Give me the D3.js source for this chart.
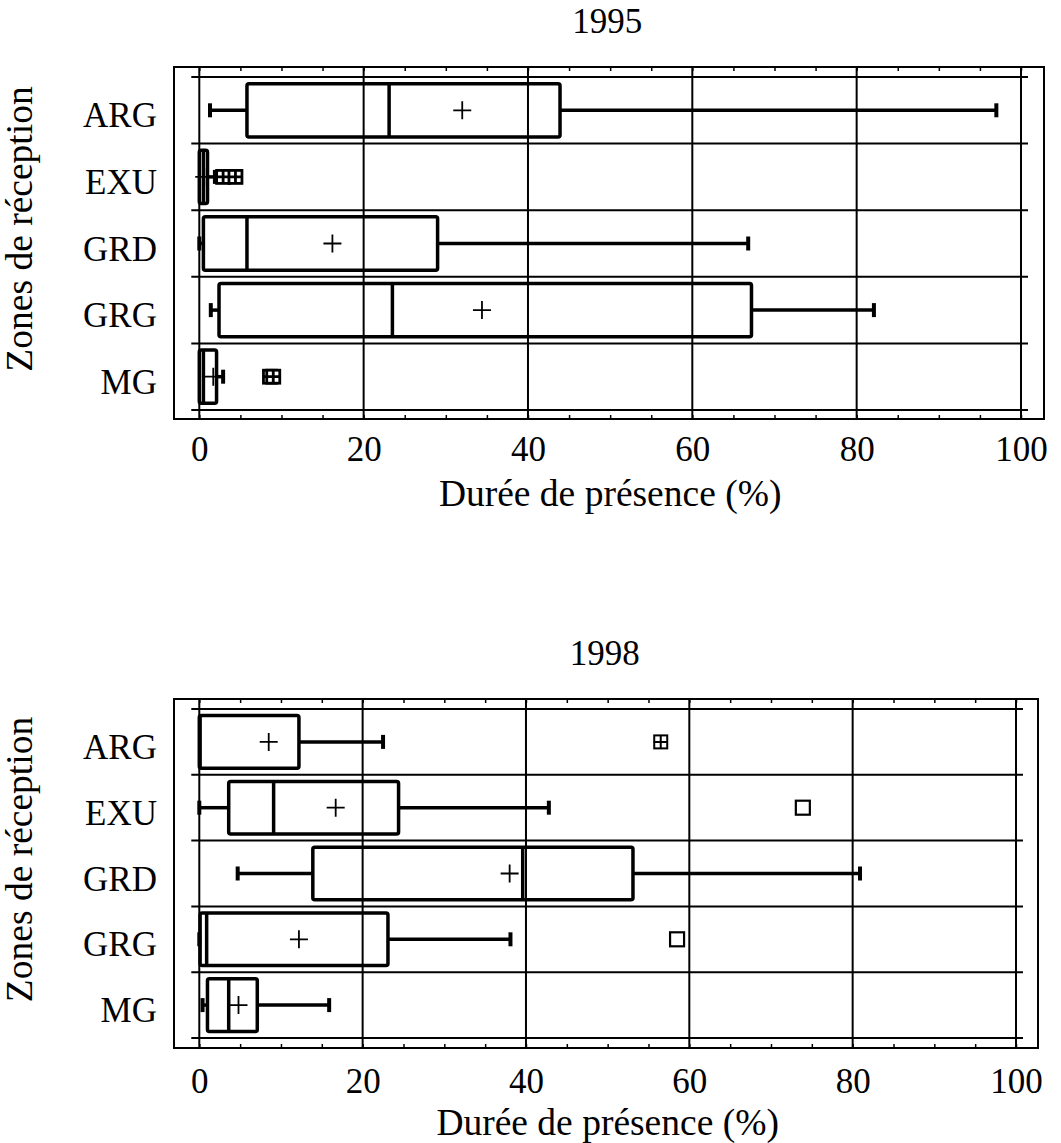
<!DOCTYPE html>
<html>
<head>
<meta charset="utf-8">
<script src="https://cdn.jsdelivr.net/npm/d3@7"></script>
<style>
  body { margin: 0; background: #fff; }
  svg text { font-family: "Liberation Serif", "DejaVu Serif", serif; fill: #000; }
</style>
</head>
<body>
<div class="chart"></div>
<script>
// zones de réception, de haut en bas
const zones = ['ARG', 'EXU', 'GRD', 'GRG', 'MG'];
const xTicks = [0, 20, 40, 60, 80, 100];
const minorTicks = d3.range(0, 101, 5);

// 1995 : min, Q1, médiane, moyenne, Q3, max
const min1995  = [1.3, 0.0, 0.0, 1.4, 0.0];
const q1_1995  = [5.8, 0.0, 0.5, 2.4, 0.0];
const med1995  = [23.1, 0.5, 5.8, 23.5, 0.5];
const mean1995 = [32.0, 0.6, 16.2, 34.4, 1.7];
const q3_1995  = [43.9, 1.0, 29.0, 67.2, 2.1];
const max1995  = [97.0, 1.9, 66.8, 82.1, 2.9];
const out1995  = [[], [], [], [], []];
const far1995  = [[], [2.9, 4.4], [], [], [8.6, 9.0]];

// 1998
const min1998  = [0.0, 0.0, 4.7, 0.0, 0.4];
const q1_1998  = [0.0, 3.6, 13.9, 0.1, 1.0];
const med1998  = [0.1, 9.1, 39.6, 0.9, 3.6];
const mean1998 = [8.5, 16.7, 38.0, 12.2, 4.8];
const q3_1998  = [12.2, 24.4, 53.1, 23.1, 7.1];
const max1998  = [22.5, 42.8, 80.9, 38.1, 15.9];
const out1998  = [[], [73.9], [], [58.5], []];
const far1998  = [[56.5], [], [], [], []];

function buildRows(mins, q1s, meds, means, q3s, maxs, outs, fars) {
  return zones.map((z, i) => ({
    zone: z, min: mins[i], q1: q1s[i], med: meds[i], mean: means[i],
    q3: q3s[i], max: maxs[i], out: outs[i], far: fars[i]
  }));
}

const svg = d3.select('.chart').append('svg')
  .attr('width', 1061).attr('height', 1143);

const FONT = 35;
const LABEL_FONT = 37.5;

function drawPanel(cfg, rows) {
  const g = svg.append('g');
  const x = d3.scaleLinear().domain([0, 100]).range([cfg.x0, cfg.x1]);
  const y = d3.scaleBand().domain(zones).range([cfg.bandTop, cfg.bandBottom]);
  const bw = y.bandwidth();
  const boxH = bw * 0.8;

  // titre
  g.append('text')
    .attr('x', (cfg.x0 + cfg.x1) / 2 - 3)
    .attr('y', cfg.top - 34)
    .attr('text-anchor', 'middle')
    .style('font-size', FONT + 'px')
    .text(cfg.title);

  // cadre
  g.append('rect')
    .attr('x', cfg.left).attr('y', cfg.top)
    .attr('width', cfg.right - cfg.left).attr('height', cfg.bottom - cfg.top)
    .attr('fill', 'none').attr('stroke', '#000').attr('stroke-width', 2);

  // grille verticale
  g.selectAll('.vgrid').data(xTicks).enter().append('line')
    .attr('x1', d => x(d)).attr('x2', d => x(d))
    .attr('y1', cfg.top).attr('y2', cfg.bottom)
    .attr('stroke', '#000').attr('stroke-width', 2);

  // lignes entre les zones
  const bounds = zones.map(z => y(z)).concat([y(zones[zones.length - 1]) + bw]);
  g.selectAll('.hgrid').data(bounds).enter().append('line')
    .attr('x1', x(0) - 8).attr('x2', x(100) + 7)
    .attr('y1', d => d).attr('y2', d => d)
    .attr('stroke', '#000').attr('stroke-width', 2);

  // petites graduations (haut et bas)
  const minorB = d3.axisBottom(x).tickValues(minorTicks).tickSizeInner(-4).tickSizeOuter(0).tickFormat('');
  g.append('g').attr('transform', `translate(0,${cfg.bottom})`).call(minorB)
    .call(a => a.select('.domain').remove())
    .selectAll('line').attr('stroke-width', 1.5);
  const minorT = d3.axisTop(x).tickValues(minorTicks).tickSizeInner(-4).tickSizeOuter(0).tickFormat('');
  g.append('g').attr('transform', `translate(0,${cfg.top})`).call(minorT)
    .call(a => a.select('.domain').remove())
    .selectAll('line').attr('stroke-width', 1.5);

  // axe X (étiquettes)
  const xAxis = d3.axisBottom(x).tickValues(xTicks).tickSize(0).tickPadding(cfg.tickPad);
  const xa = g.append('g').attr('transform', `translate(0,${cfg.bottom})`).call(xAxis);
  xa.select('.domain').remove();
  xa.selectAll('text').style('font-size', FONT + 'px').attr('font-family', null);

  // axe Y (zones)
  const yAxis = d3.axisLeft(y).tickSize(0).tickPadding(cfg.left - 157);
  const ya = g.append('g').attr('transform', `translate(${cfg.left},0)`).call(yAxis);
  ya.select('.domain').remove();
  ya.selectAll('text').style('font-size', FONT + 'px').attr('dy', '0.49em').attr('font-family', null);

  // titres des axes
  g.append('text')
    .attr('x', (x(0) + x(100)) / 2)
    .attr('y', cfg.bottom + cfg.xLabelOffset)
    .attr('text-anchor', 'middle')
    .style('font-size', LABEL_FONT + 'px')
    .text('Durée de présence (%)');
  const cy = (cfg.top + cfg.bottom) / 2 - 14;
  g.append('text')
    .attr('transform', `translate(32,${cy}) rotate(-90)`)
    .attr('text-anchor', 'middle')
    .style('font-size', LABEL_FONT + 'px')
    .text('Zones de réception');

  // boîtes
  const box = g.selectAll('.box').data(rows).enter().append('g').attr('class', 'box');
  const cyOf = d => y(d.zone) + bw / 2;

  box.append('line') // moustache basse
    .attr('x1', d => x(d.min)).attr('x2', d => x(d.q1))
    .attr('y1', cyOf).attr('y2', cyOf)
    .attr('stroke', '#000').attr('stroke-width', 3.5);
  box.append('line') // moustache haute
    .attr('x1', d => x(d.q3)).attr('x2', d => x(d.max))
    .attr('y1', cyOf).attr('y2', cyOf)
    .attr('stroke', '#000').attr('stroke-width', 3.5);
  box.filter(d => d.min < d.q1).append('line')
    .attr('x1', d => x(d.min)).attr('x2', d => x(d.min))
    .attr('y1', d => cyOf(d) - 7).attr('y2', d => cyOf(d) + 7)
    .attr('stroke', '#000').attr('stroke-width', 4);
  box.filter(d => d.max > d.q3).append('line')
    .attr('x1', d => x(d.max)).attr('x2', d => x(d.max))
    .attr('y1', d => cyOf(d) - 7).attr('y2', d => cyOf(d) + 7)
    .attr('stroke', '#000').attr('stroke-width', 4);

  box.append('rect')
    .attr('x', d => x(d.q1)).attr('width', d => Math.max(0, x(d.q3) - x(d.q1)))
    .attr('y', d => cyOf(d) - boxH / 2).attr('height', boxH)
    .attr('rx', 2)
    .attr('fill', 'none').attr('stroke', '#000').attr('stroke-width', 3.5);
  box.append('line') // médiane
    .attr('x1', d => x(d.med)).attr('x2', d => x(d.med))
    .attr('y1', d => cyOf(d) - boxH / 2).attr('y2', d => cyOf(d) + boxH / 2)
    .attr('stroke', '#000').attr('stroke-width', 3.5);

  // moyenne (+)
  const ms = 9;
  box.append('path')
    .attr('d', d => `M${x(d.mean) - ms},${cyOf(d)}H${x(d.mean) + ms}M${x(d.mean)},${cyOf(d) - ms}V${cyOf(d) + ms}`)
    .attr('stroke', '#000').attr('stroke-width', 1.8).attr('fill', 'none');

  // valeurs extrêmes
  const sq = 7;
  const outs = rows.flatMap(d => d.out.map(v => ({ v, c: cyOf(d) })));
  g.selectAll('.out').data(outs).enter().append('rect')
    .attr('x', d => x(d.v) - sq).attr('y', d => d.c - sq)
    .attr('width', sq * 2).attr('height', sq * 2)
    .attr('fill', '#fff').attr('stroke', '#000').attr('stroke-width', 2.2);
  const fars = rows.flatMap(d => d.far.map(v => ({ v, c: cyOf(d) })));
  const fg = g.selectAll('.far').data(fars).enter().append('g');
  fg.append('rect')
    .attr('x', d => x(d.v) - sq + 0.5).attr('y', d => d.c - sq + 0.5)
    .attr('width', sq * 2 - 1).attr('height', sq * 2 - 1)
    .attr('fill', '#fff').attr('stroke', '#000').attr('stroke-width', cfg.farStroke);
  fg.append('path')
    .attr('d', d => `M${x(d.v) - sq},${d.c}H${x(d.v) + sq}M${x(d.v)},${d.c - sq}V${d.c + sq}`)
    .attr('stroke', '#000').attr('stroke-width', cfg.farStroke);
}

drawPanel({
  title: '1995', top: 67, bottom: 419, left: 174, right: 1044,
  x0: 199.3, x1: 1021, bandTop: 77, bandBottom: 410,
  tickPad: 17, xLabelOffset: 87, farStroke: 2.8
}, buildRows(min1995, q1_1995, med1995, mean1995, q3_1995, max1995, out1995, far1995));

drawPanel({
  title: '1998', top: 699, bottom: 1048, left: 174, right: 1038,
  x0: 199.3, x1: 1016, bandTop: 709, bandBottom: 1038,
  tickPad: 20, xLabelOffset: 87, farStroke: 2
}, buildRows(min1998, q1_1998, med1998, mean1998, q3_1998, max1998, out1998, far1998));
</script>
</body>
</html>
